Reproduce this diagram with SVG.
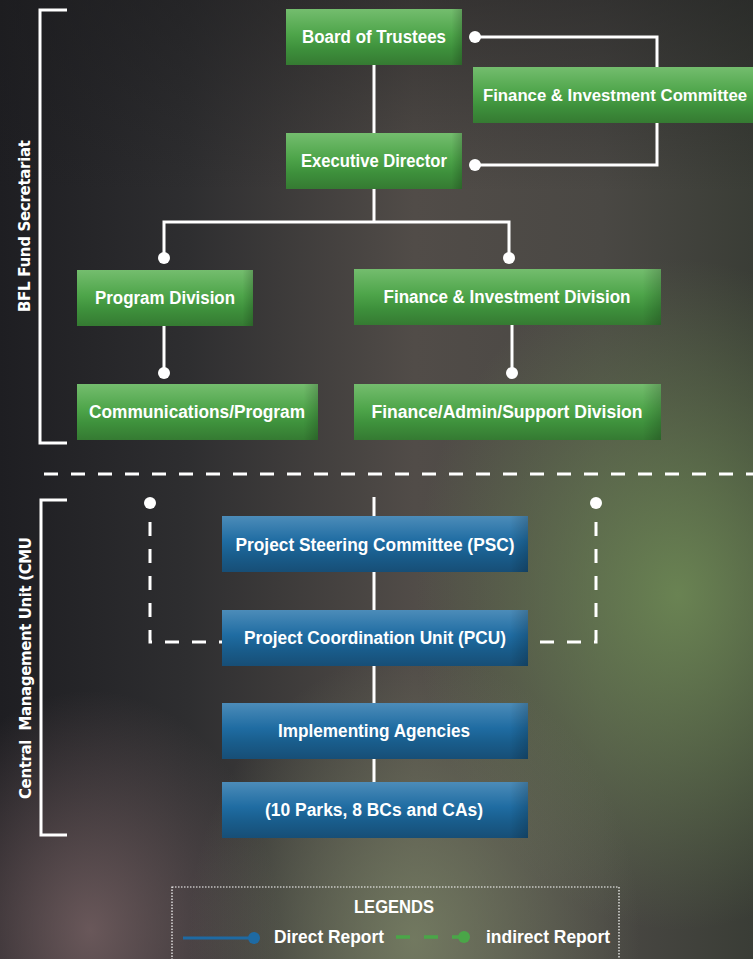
<svg xmlns="http://www.w3.org/2000/svg" width="753" height="959" viewBox="0 0 753 959">
<defs>
<linearGradient id="bgH" x1="0" y1="0" x2="1" y2="0">
<stop offset="0" stop-color="#1e1e22"/>
<stop offset="0.25" stop-color="#2e2e30"/>
<stop offset="0.55" stop-color="#514c48"/>
<stop offset="0.8" stop-color="#4a4844"/>
<stop offset="1" stop-color="#3a3d36"/>
</linearGradient>
<radialGradient id="glowG" cx="0.9" cy="0.62" r="0.35">
<stop offset="0" stop-color="#6e8a55" stop-opacity="0.9"/>
<stop offset="1" stop-color="#6e8a55" stop-opacity="0"/>
</radialGradient>
<radialGradient id="glowP" cx="0.12" cy="0.97" r="0.25">
<stop offset="0" stop-color="#7a6466" stop-opacity="0.8"/>
<stop offset="1" stop-color="#7a6466" stop-opacity="0"/>
</radialGradient>
<radialGradient id="glowB" cx="0.55" cy="0.98" r="0.3">
<stop offset="0" stop-color="#7a8466" stop-opacity="0.8"/>
<stop offset="1" stop-color="#7a8466" stop-opacity="0"/>
</radialGradient>
<linearGradient id="topDark" x1="0" y1="0" x2="0" y2="1">
<stop offset="0" stop-color="#1c1c1e" stop-opacity="0.5"/>
<stop offset="0.2" stop-color="#1c1c1e" stop-opacity="0"/>
</linearGradient>
<linearGradient id="gGreen" x1="0" y1="0" x2="0" y2="1">
<stop offset="0" stop-color="#74bd6e"/>
<stop offset="0.45" stop-color="#4ea54a"/>
<stop offset="0.7" stop-color="#3e913c"/>
<stop offset="1" stop-color="#357a32"/>
</linearGradient>
<linearGradient id="gBlue" x1="0" y1="0" x2="0" y2="1">
<stop offset="0" stop-color="#4c8cb9"/>
<stop offset="0.45" stop-color="#1f6ca2"/>
<stop offset="0.7" stop-color="#195d8c"/>
<stop offset="1" stop-color="#174e76"/>
</linearGradient>
<linearGradient id="edge" x1="0" y1="0" x2="1" y2="0">
<stop offset="0.94" stop-color="#000" stop-opacity="0"/>
<stop offset="1" stop-color="#000" stop-opacity="0.18"/>
</linearGradient>
<style>
.g{fill:url(#gGreen)}
.b{fill:url(#gBlue)}
.e{fill:url(#edge)}
.t{font-family:"Liberation Sans",Arial,sans-serif;font-weight:bold;font-size:17.5px;fill:#ffffff;text-anchor:middle}
.side{font-family:"DejaVu Sans","Liberation Sans",sans-serif;font-weight:bold;font-size:15px;fill:#ffffff;text-anchor:middle}
.ln{stroke:#ffffff;stroke-width:3;fill:none}
.dl{stroke:#ffffff;stroke-width:3;fill:none;stroke-dasharray:14 13}
.dot{fill:#ffffff}
</style>
</defs>
<rect x="0" y="0" width="753" height="959" fill="url(#bgH)"/>
<rect x="0" y="0" width="753" height="959" fill="url(#glowG)"/>
<rect x="0" y="0" width="753" height="959" fill="url(#glowP)"/>
<rect x="0" y="0" width="753" height="959" fill="url(#glowB)"/>
<rect x="0" y="0" width="753" height="959" fill="url(#topDark)"/>

<g id="brackets">
<path class="ln" d="M67,10 H40 V443 H67"/>
<text class="side" transform="translate(30,226) rotate(-90)" textLength="172" lengthAdjust="spacing">BFL Fund Secretariat</text>
<path class="ln" d="M67,500 H41 V835 H67"/>
<text class="side" transform="translate(31,668) rotate(-90)" xml:space="preserve" textLength="262" lengthAdjust="spacing">Central  Management Unit (CMU</text>
<line class="dl" x1="44" y1="474" x2="753" y2="474"/>
</g>

<g id="connectors">
<line class="ln" x1="374" y1="65" x2="374" y2="133"/>
<path class="ln" d="M476,37 H657 V165 H476"/>
<circle class="dot" cx="475" cy="37" r="6"/>
<circle class="dot" cx="475" cy="165" r="6"/>
<line class="ln" x1="374" y1="189" x2="374" y2="222"/>
<path class="ln" d="M164,258 V222 H509 V258"/>
<circle class="dot" cx="164" cy="258" r="6"/>
<circle class="dot" cx="509" cy="258" r="6"/>
<line class="ln" x1="164" y1="326" x2="164" y2="373"/>
<circle class="dot" cx="164" cy="373" r="6"/>
<line class="ln" x1="512" y1="325" x2="512" y2="373"/>
<circle class="dot" cx="512" cy="373" r="6"/>
<line class="ln" x1="374" y1="497" x2="374" y2="782"/>
<circle class="dot" cx="150" cy="503" r="6"/>
<circle class="dot" cx="596" cy="503" r="6"/>
<path class="dl" d="M150,522 V642 H222"/>
<path class="dl" d="M596,522 V642 H528"/>
</g>

<g id="board"><rect class="g" x="286" y="9" width="176" height="56"/><rect class="e" x="286" y="9" width="176" height="56"/><text class="t" x="374" y="43" textLength="144" lengthAdjust="spacingAndGlyphs">Board of Trustees</text></g>
<g id="fic"><rect class="g" x="473" y="67" width="290" height="56"/><text class="t" x="615" y="101" style="font-size:16px" textLength="264" lengthAdjust="spacingAndGlyphs">Finance &amp; Investment Committee</text></g>
<g id="exec"><rect class="g" x="286" y="133" width="176" height="56"/><rect class="e" x="286" y="133" width="176" height="56"/><text class="t" x="374" y="167" textLength="146" lengthAdjust="spacingAndGlyphs">Executive Director</text></g>
<g id="program"><rect class="g" x="77" y="270" width="176" height="56"/><rect class="e" x="77" y="270" width="176" height="56"/><text class="t" x="165" y="304" textLength="140" lengthAdjust="spacingAndGlyphs">Program Division</text></g>
<g id="fid"><rect class="g" x="354" y="269" width="307" height="56"/><rect class="e" x="354" y="269" width="307" height="56"/><text class="t" x="507" y="303" textLength="247" lengthAdjust="spacingAndGlyphs">Finance &amp; Investment Division</text></g>
<g id="comms"><rect class="g" x="77" y="384" width="241" height="56"/><rect class="e" x="77" y="384" width="241" height="56"/><text class="t" x="197" y="418" textLength="216" lengthAdjust="spacingAndGlyphs">Communications/Program</text></g>
<g id="fas"><rect class="g" x="354" y="384" width="307" height="56"/><rect class="e" x="354" y="384" width="307" height="56"/><text class="t" x="507" y="418" textLength="271" lengthAdjust="spacingAndGlyphs">Finance/Admin/Support Division</text></g>

<g id="psc"><rect class="b" x="222" y="516" width="306" height="56"/><rect class="e" x="222" y="516" width="306" height="56"/><text class="t" x="375" y="551" textLength="279" lengthAdjust="spacingAndGlyphs">Project Steering Committee (PSC)</text></g>
<g id="pcu"><rect class="b" x="222" y="610" width="306" height="56"/><rect class="e" x="222" y="610" width="306" height="56"/><text class="t" x="375" y="644" textLength="262" lengthAdjust="spacingAndGlyphs">Project Coordination Unit (PCU)</text></g>
<g id="ia"><rect class="b" x="222" y="703" width="306" height="56"/><rect class="e" x="222" y="703" width="306" height="56"/><text class="t" x="374" y="737" textLength="192" lengthAdjust="spacingAndGlyphs">Implementing Agencies</text></g>
<g id="parks"><rect class="b" x="222" y="782" width="306" height="56"/><rect class="e" x="222" y="782" width="306" height="56"/><text class="t" x="374" y="816" textLength="218" lengthAdjust="spacingAndGlyphs">(10 Parks, 8 BCs and CAs)</text></g>

<g id="legend">
<rect x="172" y="887" width="447" height="80" fill="none" stroke="#ffffff" stroke-width="1.2" stroke-dasharray="1.5 1.5"/>
<text class="t" x="394" y="913" textLength="80" lengthAdjust="spacingAndGlyphs">LEGENDS</text>
<line x1="183" y1="938" x2="252" y2="938" stroke="#1e6aa3" stroke-width="3"/>
<circle cx="254" cy="938" r="6" fill="#1e6aa3"/>
<text class="t" x="329" y="943" textLength="110" lengthAdjust="spacingAndGlyphs">Direct Report</text>
<line x1="396" y1="937" x2="461" y2="937" stroke="#4aa648" stroke-width="3.5" stroke-dasharray="14 14"/>
<circle cx="464" cy="937" r="6" fill="#4aa648"/>
<text class="t" x="548" y="943" textLength="124" lengthAdjust="spacingAndGlyphs">indirect Report</text>
</g>
</svg>
